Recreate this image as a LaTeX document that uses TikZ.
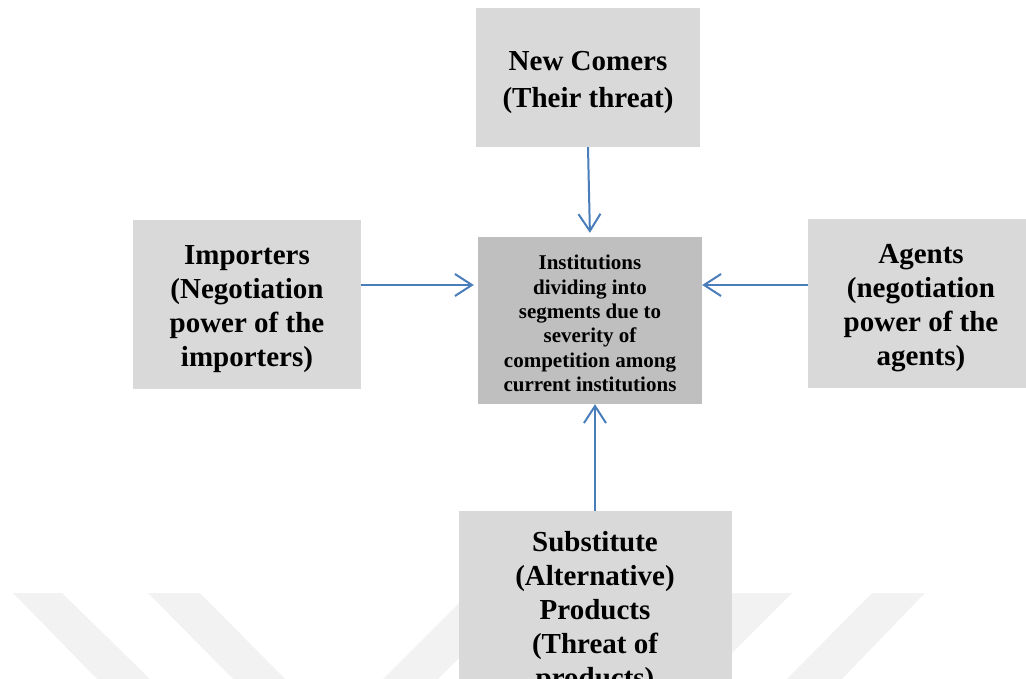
\documentclass[tikz,border=0pt]{standalone}
\usepackage{fontspec}
\setmainfont{Liberation Serif}
\usetikzlibrary{arrows.meta}
\definecolor{boxgray}{HTML}{D9D9D9}
\definecolor{midgray}{HTML}{BFBFBF}
\definecolor{arrowblue}{HTML}{4A7EBB}
\definecolor{wmark}{HTML}{F2F2F2}
\begin{document}
\begin{tikzpicture}[x=1pt,y=-1pt,
  force/.style={rectangle, fill=boxgray, inner sep=0pt},
  core/.style={rectangle, fill=midgray, inner sep=0pt},
  bigtext/.style={align=center, inner sep=0pt, yshift=-5pt,
    font=\bfseries\fontsize{29}{34}\selectfont},
  smalltext/.style={align=center, inner sep=0pt, yshift=-3pt,
    font=\bfseries\fontsize{21}{24.3}\selectfont},
  flow/.style={draw=arrowblue, line width=2pt,
    -{Straight Barb[length=17pt,width=22pt,line width=2pt]}},
  stripe/.style={fill=wmark, draw=none}]
\useasboundingbox (0,0) rectangle (1026,679);
\clip (0,0) rectangle (1026,679);
% watermark
\fill[stripe] (13,593) -- (62,593) -- (150,679) -- (97,679) -- cycle;
\fill[stripe] (148,593) -- (200,593) -- (285,679) -- (233,679) -- cycle;
\fill[stripe] (383,679) -- (438,679) -- (524,593) -- (469,593) -- cycle;
\fill[stripe] (733,593) -- (792,593) -- (706,679) -- (647,679) -- cycle;
\fill[stripe] (872,593) -- (925,593) -- (842,679) -- (787,679) -- cycle;
% boxes
\node[force, minimum width=224pt, minimum height=139pt,
  label={[bigtext, font=\bfseries\fontsize{29}{37}\selectfont]center:{New Comers\\(Their threat)}}]
  (top) at (588,77.5) {};
\node[force, minimum width=228pt, minimum height=169pt,
  label={[bigtext]center:{Importers\\(Negotiation\\power of the\\importers)}}]
  (left) at (247,304.5) {};
\node[core, minimum width=224pt, minimum height=167pt,
  label={[smalltext]center:{Institutions\\dividing into\\segments due to\\severity of\\competition among\\current institutions}}]
  (center) at (590,320.5) {};
\node[force, minimum width=226pt, minimum height=169pt,
  label={[bigtext]center:{Agents\\(negotiation\\power of the\\agents)}}]
  (right) at (921,303.5) {};
\node[force, minimum width=273pt, minimum height=194pt,
  label={[bigtext]center:{Substitute\\(Alternative)\\Products\\(Threat of\\products)}}]
  (bottom) at (595,608) {};
% arrows
\draw[flow, shorten >=4pt] (top.south) -- (center.north);
\draw[flow, shorten >=4pt] (left.east |- 0,285) -- (center.west |- 0,285);
\draw[flow] (right.west |- 0,285) -- (center.east |- 0,285);
\draw[flow] (bottom.north -| 595,0) -- (center.south -| 595,0);
\end{tikzpicture}
\end{document}
